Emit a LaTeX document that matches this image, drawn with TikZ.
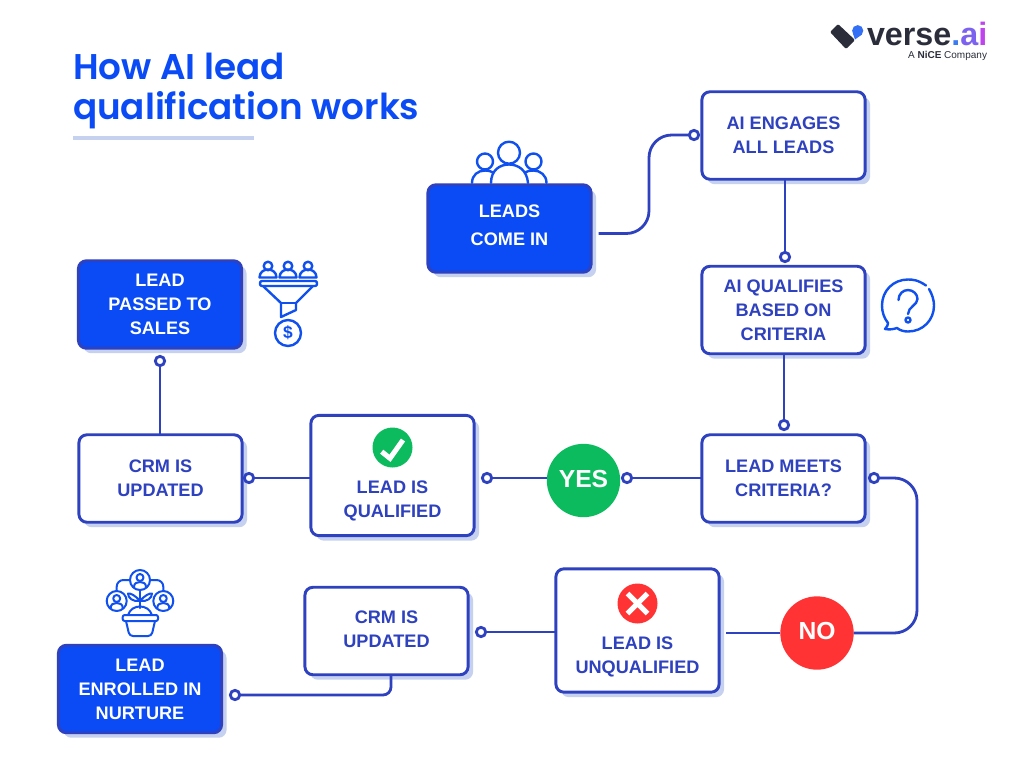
\documentclass[tikz,border=0pt]{standalone}
\usepackage{fontspec}
\setmainfont{Liberation Sans}
\newfontfamily\titlefont{Poppins}[BoldFont={Poppins SemiBold}]
\usetikzlibrary{shadows,calc}
\definecolor{navy}{HTML}{2E41BE}
\definecolor{royal}{HTML}{0A4BF5}
\definecolor{iconblue}{HTML}{0F50EE}
\definecolor{paleshade}{HTML}{C5D1EF}
\definecolor{okgreen}{HTML}{0DBB5F}
\definecolor{nored}{HTML}{FF3333}
\definecolor{logodark}{HTML}{2B2E3A}
\definecolor{logoblue}{HTML}{3370F5}
\tikzset{
  x=0.75pt,y=-0.75pt,
  every node/.style={inner sep=0pt,outer sep=0pt},
  boxbase/.style={rectangle,rounded corners=6pt,line width=2.2pt,draw=navy,minimum width=122.4pt,
    align=center,font=\fontsize{13.6}{18}\selectfont\bfseries,
    execute at begin node={\rule{0pt}{15.4pt}},
    general shadow={shadow xshift=3.75pt,shadow yshift=-3.75pt,fill=paleshade}},
  whitebox/.style={boxbase,fill=white,text=navy},
  bluebox/.style={boxbase,fill=royal,text=white},
  boxword/.style={align=center,font=\fontsize{13.6}{18}\selectfont\bfseries},
  short/.style={minimum height=65.6pt},
  tall/.style={minimum height=90.2pt},
  conn/.style={line width=2.1pt,draw=navy},
  curve/.style={conn,rounded corners=17pt},
  tiny/.style={circle,minimum size=7pt,line width=2.1pt,draw=navy,fill=white},
  verdict/.style={circle,minimum size=55pt,text=white,font=\fontsize{18.5}{22}\selectfont\bfseries,
    execute at begin node={\rule[-2.5pt]{0pt}{1pt}}},
  badge/.style={circle,minimum size=30pt},
  iconline/.style={draw=iconblue,line width=1.8pt,line join=round,line cap=round},
  glyph/.style={draw=white,line width=3.8pt},
}
\begin{document}
\begin{tikzpicture}
\useasboundingbox (0,0) rectangle (1024,768);
\fill[white] (0,0) rectangle (1024,768);

% title
\node[anchor=base west,align=left,text=royal,font=\titlefont\fontsize{26.8}{30}\selectfont\bfseries] (title) at (73,119)
  {How AI lead\\qualification works};
\fill[paleshade] (73,136) rectangle (254,140);

% logo
\fill[logodark,rounded corners=1pt] (830,32) -- (838,24) -- (855,40) -- (846,49) -- cycle;
\fill[logoblue] (857.7,30.7) circle (5.6);
\fill[logoblue] (852.6,32.5) -- (862.2,34.3) -- (855,39.5) -- cycle;
\node[anchor=base west,text=logodark,font=\fontsize{24.2}{25}\selectfont\bfseries] (logoword) at (867,45)
  {verse\textcolor[HTML]{3D7BF2}{.}\textcolor[HTML]{7D62F0}{a}\textcolor[HTML]{C044EE}{i}};
\node[anchor=base east,text=logodark,font=\fontsize{7.5}{8}\selectfont] (logosub) at (987,58)
  {A \textbf{NiCE} Company};

% boxes
\node[bluebox,short] (leads) at (509.5,228.5) {};
\node[boxword,text=white,font=\fontsize{13.6}{21}\selectfont\bfseries] (leadstext) at (509.5,225) {LEADS\\COME IN};
\node[whitebox,short] (engage) at (783.5,135.5) {AI ENGAGES\\ALL LEADS};
\node[whitebox,short] (qualifies) at (783.5,310) {AI QUALIFIES\\BASED ON\\CRITERIA};
\node[whitebox,short] (meets) at (783.5,478.5) {LEAD MEETS\\CRITERIA?};
\node[whitebox,tall] (qualified) at (392.5,475.5) {};
\node[boxword,text=navy] (qualifiedtext) at (392.5,501) {LEAD IS\\QUALIFIED};
\node[whitebox,short] (crmup) at (160.5,478.5) {CRM IS\\UPDATED};
\node[bluebox,short] (passed) at (160,304.5) {LEAD\\PASSED TO\\SALES};
\node[whitebox,tall,minimum height=92.5pt] (unqualified) at (637.5,630.5) {};
\node[boxword,text=navy] (unqualifiedtext) at (637.5,657) {LEAD IS\\UNQUALIFIED};
\node[whitebox,short] (crmlow) at (386.5,631) {};
\node[boxword,text=navy] (crmlowtext) at (386.5,629) {CRM IS\\UPDATED};
\node[bluebox,short] (nurture) at (140,689) {LEAD\\ENROLLED IN\\NURTURE};

% verdicts
\node[verdict,fill=okgreen] (yes) at (583.5,480.5) {YES};
\node[verdict,fill=nored] (no) at (817,633) {NO};

% terminals
\node[tiny] (d1) at (694,135) {};
\node[tiny] (d2) at (785,257) {};
\node[tiny] (d3) at (784,425) {};
\node[tiny] (d4) at (627,478) {};
\node[tiny] (d5) at (487,478) {};
\node[tiny] (d6) at (249,478) {};
\node[tiny] (d7) at (160,361) {};
\node[tiny] (d8) at (874,478) {};
\node[tiny] (d9) at (481,632) {};
\node[tiny] (d10) at (235,695) {};
\coordinate (start1) at (598.5,233.5);
\coordinate (bend1) at (649,180);
\coordinate (bend2) at (917,550);
\coordinate (noleft) at (726,633);
\coordinate (crmdrop) at (391,675);

% connectors
\draw[curve] (start1) -- (bend1 |- start1) -- (bend1 |- d1) -- (d1.west);
\draw[conn] (d2 |- engage.south) -- (d2.north);
\draw[conn] (d3 |- qualifies.south) -- (d3.north);
\draw[conn] (meets.west |- d4) -- (d4.east);
\draw[conn] (yes.west |- d5) -- (d5.east);
\draw[conn] (qualified.west |- d6) -- (d6.east);
\draw[conn] (d7 |- crmup.north) -- (d7.south);
\draw[curve] (d8.east) -- (bend2 |- d8) -- (bend2 |- no) -- (no.east);
\draw[conn] (no.west) -- (noleft);
\draw[conn] (unqualified.west |- d9) -- (d9.east);
\draw[conn,rounded corners=6pt] (crmdrop) -- (crmdrop |- d10) -- (d10.east);

% badges
\node[badge,fill=okgreen] (okbadge) at (392.5,447.5) {};
\draw[glyph] (381.7,451.7) -- (390,458.3) -- (403,440);
\node[badge,fill=nored] (xbadge) at (637.5,603.5) {};
\draw[glyph] (627.5,593.5) -- (647.5,613.5) (647.5,593.5) -- (627.5,613.5);

% people icon above LEADS
\begin{scope}[iconline]
\draw (509,152.7) circle (11);
\draw (485,161.5) circle (8);
\draw (533.5,161.5) circle (8);
\draw (491,183) .. controls (491,170) and (500,164.5) .. (509,164.5) .. controls (518,164.5) and (527,170) .. (528,183);
\draw (472,183) .. controls (472,175) and (478,170.5) .. (485,170.5) .. controls (488,170.5) and (491,171) .. (493,172.5);
\draw (546.5,183) .. controls (546.5,175) and (540,170.5) .. (533.5,170.5) .. controls (530,170.5) and (527,171) .. (525,172.5);
\end{scope}

% funnel icon
\begin{scope}[iconline]
\foreach \cx in {268,288,308}{
  \draw (\cx,266) circle (4.3);
  \draw (\cx-8.5,277.5) .. controls (\cx-8.5,272) and (\cx-4,269.5) .. (\cx,269.5) .. controls (\cx+4,269.5) and (\cx+8.5,272) .. (\cx+8.5,277.5) -- cycle;
}
\draw[rounded corners=1.5pt] (260,281) rectangle (317,286);
\draw (263,286) -- (281,303) -- (281,317) -- (296,310) -- (296,303) -- (313,286);
\draw (281,303) -- (296,303);
\draw (288,333) circle (13);
\end{scope}
\node[text=iconblue,font=\fontsize{13}{13}\selectfont\bfseries] (dollar) at (288,333) {\$};

% plant icon
\begin{scope}[iconline,line width=1.5pt]
\foreach \cx/\cy in {140/580,116.7/601,163.3/601}{
  \draw (\cx,\cy) circle (10);
  \draw (\cx,\cy-2.5) circle (3.5);
  \draw (\cx-6,\cy+7) .. controls (\cx-6,\cy+3) and (\cx-3,\cy+2) .. (\cx,\cy+2) .. controls (\cx+3,\cy+2) and (\cx+6,\cy+3) .. (\cx+6,\cy+7);
}
\draw[rounded corners=5pt] (116.7,591) -- (116.7,580) -- (130,580);
\draw[rounded corners=5pt] (163.3,591) -- (163.3,580) -- (150,580);
\draw (140,590) -- (140,608);
\draw (140,601) .. controls (135,595) and (130,593) .. (128,593.5) .. controls (128,598) and (133,602) .. (140,601);
\draw (140,601) .. controls (145,595) and (150,593) .. (152,593.5) .. controls (152,598) and (147,602) .. (140,601);
\draw (128,615) .. controls (130,609) and (135,606.5) .. (140,606.5) .. controls (145,606.5) and (150,609) .. (152,615);
\draw[rounded corners=1.5pt] (122.7,615) rectangle (158,621);
\draw[rounded corners=2.5pt] (126,621) -- (129.5,636) -- (151.5,636) -- (155,621);
\end{scope}

% question icon
\begin{scope}[iconline]
\draw (926,285.5) .. controls (918,280) and (913,279.5) .. (908,279.5) .. controls (893,279.5) and (882,291) .. (882,305.5) .. controls (882,312) and (884,318) .. (888,323) .. controls (888,325) and (887,327) .. (885,329) .. controls (890,330) and (894,329) .. (897,328) .. controls (900,330.5) and (904,331.5) .. (908,331.5) .. controls (923,331.5) and (934,320) .. (934,305.5) .. controls (934,300) and (932,294) .. (929,289);
\draw (898.5,300) .. controls (898.5,294) and (903,290) .. (908,290) .. controls (913,290) and (917.5,294) .. (917.5,299) .. controls (917.5,305) and (908,307) .. (908,314);
\draw (908,320) circle (2.5);
\end{scope}
\end{tikzpicture}
\end{document}
